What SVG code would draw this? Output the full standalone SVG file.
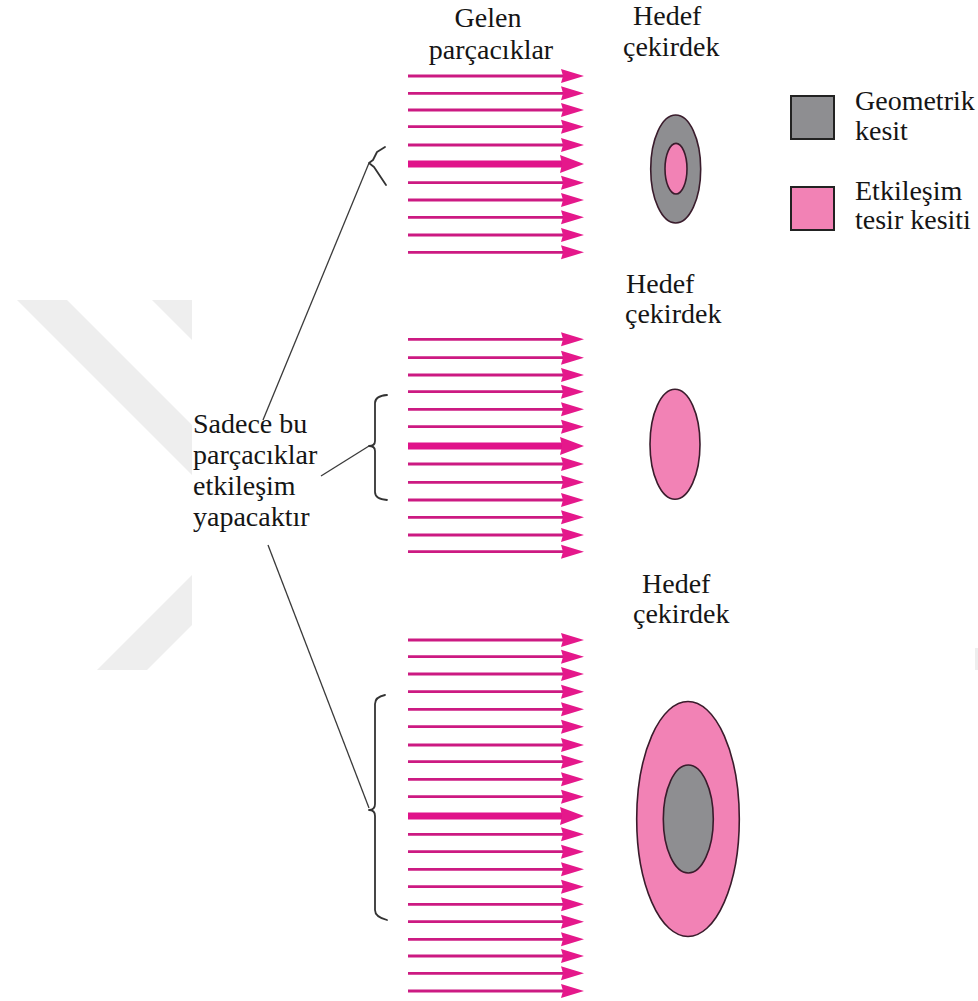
<svg xmlns="http://www.w3.org/2000/svg" xmlns:xlink="http://www.w3.org/1999/xlink" width="978" height="1001" viewBox="0 0 978 1001">
  <style>
    text { font-family: "Liberation Serif", "DejaVu Serif", "Times New Roman", serif; font-size: 28px; fill: #151515; }
    .wm { fill: #eeeeee; }
    .lead { fill: none; stroke: #3a3a3a; stroke-width: 1.3; }
    .brace { fill: none; stroke: #333333; stroke-width: 1.8; stroke-linejoin: round; stroke-linecap: round; }
    .geo { fill: #8e8e91; stroke: #3a1c2c; stroke-width: 1.6; }
    .int { fill: #f282b5; stroke: #3a1c2c; stroke-width: 1.6; }
    .key { stroke: #222222; stroke-width: 2; }
  </style>
  <defs>
    <!-- ordinary incoming particle -->
    <g id="ray">
      <line x1="408" y1="0" x2="566" y2="0" stroke="#cc1a82" stroke-width="2.8"/>
      <path d="M561,-7 L584,0 L561,7 L563,0 Z" fill="#e5188b"/>
    </g>
    <!-- the particle aimed at the centre -->
    <g id="ray-main">
      <line x1="408" y1="0" x2="564" y2="0" stroke="#e0138a" stroke-width="7"/>
      <path d="M560,-9 L584,0 L560,9 L562,0 Z" fill="#e5188b"/>
    </g>
  </defs>

  <rect width="978" height="1001" fill="#ffffff"/>

  <!-- faint background mark -->
  <g id="backdrop">
    <polygon class="wm" points="17,300 67,300 192,425 192,475"/>
    <polygon class="wm" points="152,300 192,300 192,340"/>
    <polygon class="wm" points="97,670 147,670 192,625 192,575"/>
    <rect class="wm" x="975" y="648" width="3" height="22"/>
  </g>

  <!-- column headings -->
  <g id="heading-particles">
    <text x="488" y="27" text-anchor="middle" font-family="Liberation Serif, serif">Gelen</text>
    <text x="491" y="59" text-anchor="middle" font-family="Liberation Serif, serif">parçacıklar</text>
  </g>

  <!-- beams -->
  <g id="beam-top">
    <use xlink:href="#ray" y="76"/>
    <use xlink:href="#ray" y="93.3"/>
    <use xlink:href="#ray" y="110"/>
    <use xlink:href="#ray" y="126.7"/>
    <use xlink:href="#ray" y="145"/>
    <use xlink:href="#ray-main" y="164"/>
    <use xlink:href="#ray" y="182.7"/>
    <use xlink:href="#ray" y="200"/>
    <use xlink:href="#ray" y="217.3"/>
    <use xlink:href="#ray" y="235"/>
    <use xlink:href="#ray" y="252.3"/>
  </g>
  <g id="beam-middle">
    <use xlink:href="#ray" y="339.3"/>
    <use xlink:href="#ray" y="357.7"/>
    <use xlink:href="#ray" y="375"/>
    <use xlink:href="#ray" y="391.7"/>
    <use xlink:href="#ray" y="409.3"/>
    <use xlink:href="#ray" y="426.7"/>
    <use xlink:href="#ray-main" y="446"/>
    <use xlink:href="#ray" y="464"/>
    <use xlink:href="#ray" y="482.3"/>
    <use xlink:href="#ray" y="500"/>
    <use xlink:href="#ray" y="517.3"/>
    <use xlink:href="#ray" y="535"/>
    <use xlink:href="#ray" y="551.7"/>
  </g>
  <g id="beam-bottom">
    <use xlink:href="#ray" y="640"/>
    <use xlink:href="#ray" y="656.7"/>
    <use xlink:href="#ray" y="674"/>
    <use xlink:href="#ray" y="691.7"/>
    <use xlink:href="#ray" y="709.3"/>
    <use xlink:href="#ray" y="726.7"/>
    <use xlink:href="#ray" y="745"/>
    <use xlink:href="#ray" y="761.7"/>
    <use xlink:href="#ray" y="779.3"/>
    <use xlink:href="#ray" y="796.7"/>
    <use xlink:href="#ray-main" y="816"/>
    <use xlink:href="#ray" y="834.3"/>
    <use xlink:href="#ray" y="851.7"/>
    <use xlink:href="#ray" y="869.3"/>
    <use xlink:href="#ray" y="886.7"/>
    <use xlink:href="#ray" y="904.3"/>
    <use xlink:href="#ray" y="921.7"/>
    <use xlink:href="#ray" y="939.3"/>
    <use xlink:href="#ray" y="956"/>
    <use xlink:href="#ray" y="973.3"/>
    <use xlink:href="#ray" y="991"/>
  </g>

  <!-- targets -->
  <g id="target-top">
    <text x="633" y="25">Hedef</text>
    <text x="623" y="56">çekirdek</text>
    <ellipse class="geo" cx="675.7" cy="169" rx="25" ry="54"/>
    <ellipse class="int" cx="676" cy="168.7" rx="11" ry="25.3"/>
  </g>
  <g id="target-middle">
    <text x="626" y="293">Hedef</text>
    <text x="625" y="323">çekirdek</text>
    <ellipse class="int" cx="675" cy="444.3" rx="25" ry="55"/>
  </g>
  <g id="target-bottom">
    <text x="642" y="593">Hedef</text>
    <text x="633" y="623">çekirdek</text>
    <ellipse class="int" cx="688" cy="819" rx="51.3" ry="117.5"/>
    <ellipse class="geo" cx="688.3" cy="819" rx="25" ry="54"/>
  </g>

  <!-- key -->
  <g id="legend-geometric">
    <rect class="key" x="791" y="96" width="43" height="43" fill="#8e8e91"/>
    <text x="855" y="110">Geometrik</text>
    <text x="855" y="140">kesit</text>
  </g>
  <g id="legend-interaction">
    <rect class="key" x="791" y="187" width="43" height="43" fill="#f282b5"/>
    <text x="855" y="200">Etkileşim</text>
    <text x="855" y="229">tesir kesiti</text>
  </g>

  <!-- note on the left -->
  <g id="note">
    <text x="193" y="433">Sadece bu</text>
    <text x="193" y="464">parçacıklar</text>
    <text x="193" y="495">etkileşim</text>
    <text x="193" y="526">yapacaktır</text>
  </g>

  <!-- braces and leader lines -->
  <g id="connectors">
    <path class="brace" d="M385,147 L377,152 L373,160 L369,163 L374,167 L386,185"/>
    <path class="brace" d="M387,395 Q375,396 375,403 L375,441 Q375,446 369,446 Q375,446 375,451 L375,492 Q375,499 387,500"/>
    <path class="brace" d="M385,695 Q375,697 375,704 L375,804 Q375,810 369,810 Q375,810 375,816 L375,910 Q375,917 387,920"/>
    <line class="lead" x1="369" y1="163" x2="263" y2="420"/>
    <line class="lead" x1="369" y1="446" x2="321" y2="476"/>
    <line class="lead" x1="268" y1="545" x2="369" y2="808"/>
  </g>
</svg>
